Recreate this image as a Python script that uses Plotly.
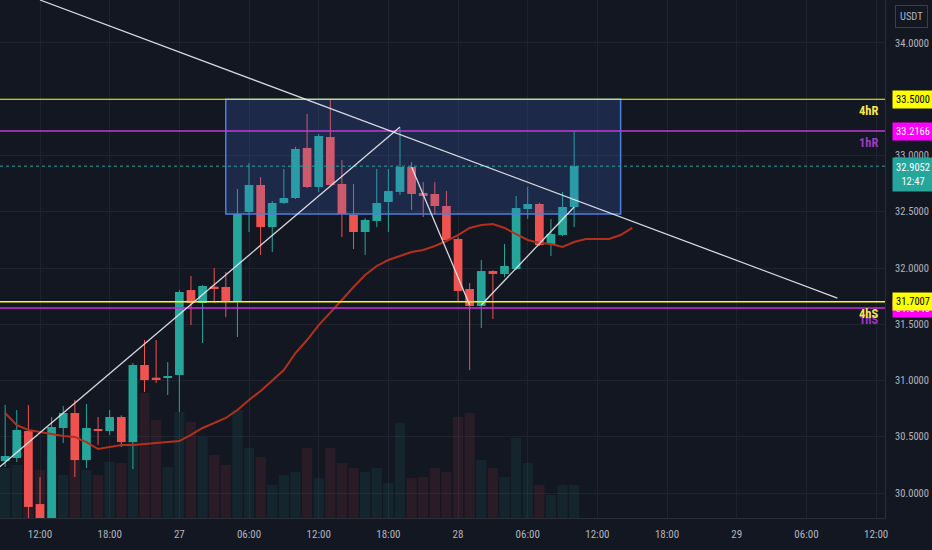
import plotly.graph_objects as go
import pandas as pd

# ---------------- data ----------------
candle_start = "2022-01-26 09:00"   # hourly candles

opens = [30.284, 30.311, 30.551, 29.902, 29.740, 30.578, 30.711, 30.293, 30.569, 30.551,
         30.676, 30.453, 31.138, 31.022, 31.022, 31.049, 31.804, 31.689, 31.831, 31.831,
         31.707, 32.498, 32.738, 32.364, 32.578, 32.622, 33.067, 32.720, 33.164, 32.747,
         32.471, 32.320, 32.418, 32.587, 32.676, 32.898, 32.667, 32.658, 32.551, 32.258,
         31.813, 31.662, 31.973, 31.947, 31.991, 32.524, 32.569, 32.213, 32.293, 32.542]
highs = [30.782, 30.738, 30.782, 30.142, 30.676, 30.773, 30.827, 30.791, 30.676, 30.738,
         30.690, 31.156, 31.360, 31.360, 31.164, 31.804, 31.929, 31.850, 32.000, 31.964,
         32.702, 32.933, 32.809, 32.596, 32.880, 33.076, 33.369, 33.191, 33.502, 32.960,
         32.747, 32.444, 32.880, 32.880, 33.244, 32.942, 32.764, 32.764, 32.684, 32.276,
         31.867, 32.071, 31.980, 32.213, 32.640, 32.720, 32.580, 32.436, 32.676, 33.218]
lows = [30.231, 30.276, 29.700, 29.700, 29.700, 30.444, 30.142, 30.222, 30.427, 30.516,
        30.409, 30.213, 30.898, 30.978, 30.871, 30.720, 31.493, 31.333, 31.689, 31.564,
        31.387, 32.320, 32.116, 32.142, 32.569, 32.613, 32.711, 32.676, 32.730, 32.276,
        32.169, 32.116, 32.364, 32.320, 32.649, 32.516, 32.453, 32.471, 32.240, 31.698,
        31.093, 31.467, 31.547, 31.920, 31.982, 32.436, 32.196, 32.107, 32.284, 32.364]
closes = [30.329, 30.560, 29.876, 29.740, 30.587, 30.711, 30.293, 30.578, 30.551, 30.676,
          30.453, 31.138, 31.004, 31.013, 31.040, 31.787, 31.689, 31.840, 31.822, 31.707,
          32.480, 32.738, 32.364, 32.578, 32.622, 33.058, 32.720, 33.173, 32.738, 32.480,
          32.320, 32.427, 32.578, 32.684, 32.898, 32.658, 32.640, 32.551, 32.249, 31.796,
          31.662, 31.973, 31.947, 32.018, 32.533, 32.569, 32.204, 32.302, 32.542, 32.9052]
volumes = [50, 53, 48, 48, 63, 43, 58, 48, 43, 56,
           55, 78, 125, 98, 51, 106, 96, 81, 63, 53,
           108, 70, 61, 33, 43, 46, 70, 40, 70, 55,
           50, 46, 50, 35, 95, 40, 41, 50, 46, 101,
           105, 58, 50, 41, 80, 55, 33, 23, 33, 33]
# moving average (plotted with a forward offset, so it runs past the last candle)
ma_values = [30.711, 30.604, 30.560, 30.542, 30.524, 30.507, 30.498, 30.453, 30.391, 30.409,
             30.427, 30.427, 30.436, 30.444, 30.453, 30.462, 30.516, 30.578, 30.622, 30.667,
             30.738, 30.827, 30.907, 31.004, 31.093, 31.244, 31.360, 31.493, 31.609, 31.716,
             31.831, 31.938, 32.018, 32.071, 32.107, 32.142, 32.160, 32.196, 32.240, 32.293,
             32.356, 32.382, 32.391, 32.356, 32.302, 32.249, 32.222, 32.213, 32.187, 32.231,
             32.258, 32.258, 32.258, 32.293, 32.356]

x_tick_times = ["2022-01-26 12:00", "2022-01-26 18:00", "2022-01-27 00:00", "2022-01-27 06:00",
                "2022-01-27 12:00", "2022-01-27 18:00", "2022-01-28 00:00", "2022-01-28 06:00",
                "2022-01-28 12:00", "2022-01-28 18:00", "2022-01-29 00:00", "2022-01-29 06:00",
                "2022-01-29 12:00"]
x_tick_labels = ["12:00", "18:00", "27", "06:00", "12:00", "18:00", "28", "06:00",
                 "12:00", "18:00", "29", "06:00", "12:00"]
y_tick_values = [30.0, 30.5, 31.0, 31.5, 32.0, 32.5, 33.0, 33.5, 34.0]

level_4h_res = 33.5000
level_1h_res = 33.2166
level_4h_sup = 31.7007
level_1h_sup = 31.6440
last_price = 32.9052
countdown = "12:47"
quote_ccy = "USDT"

zone_times = ["2022-01-27 04:00", "2022-01-28 14:00"]
zone_prices = [32.48, 33.50]

trend_lines = [
    ("2022-01-26 12:00", 34.382, "2022-01-29 08:40", 31.733),
    ("2022-01-26 08:30", 30.230, "2022-01-27 19:00", 33.253),
    ("2022-01-27 20:00", 32.898, "2022-01-28 01:00", 31.671),
    ("2022-01-28 02:00", 31.671, "2022-01-28 10:00", 32.542),
]

x_view = ["2022-01-26 08:33:20", "2022-01-29 12:46:00"]
y_view = [29.778, 34.382]

# ---------------- styling ----------------
BG = "#131722"
GRID = "#1f2330"
AXIS_TXT = "#b2b5be"
UP = "#26a69a"
DOWN = "#ef5350"
FONT = "Liberation Sans Narrow, Roboto Condensed, Roboto, Arial, sans-serif"
HOUR_MS = 3600 * 1000

times = pd.date_range(candle_start, periods=len(opens), freq="h")
ma_times = pd.date_range(candle_start, periods=len(ma_values), freq="h")

is_up = [c >= o for o, c in zip(opens, closes)]
body_colors = [UP if u else DOWN for u in is_up]
vol_colors = ["rgba(38,166,154,0.10)" if u else "rgba(239,83,80,0.10)" for u in is_up]

fig = go.Figure()

# volume (hidden primary axis, drawn first = behind)
fig.add_trace(go.Bar(x=times, y=volumes, marker=dict(color=vol_colors, line=dict(width=0)),
                     width=0.88 * HOUR_MS, yaxis="y", hoverinfo="skip", showlegend=False))

# wicks
for want_up, col in ((True, UP), (False, DOWN)):
    wx, wy = [], []
    for t, h, l, u in zip(times, highs, lows, is_up):
        if u == want_up:
            wx += [t, t, None]
            wy += [l, h, None]
    fig.add_trace(go.Scatter(x=wx, y=wy, mode="lines", line=dict(color=col, width=1),
                             yaxis="y2", hoverinfo="skip", showlegend=False))

# bodies
fig.add_trace(go.Bar(x=times,
                     y=[max(abs(c - o), 0.012) for o, c in zip(opens, closes)],
                     base=[min(o, c) for o, c in zip(opens, closes)],
                     marker=dict(color=body_colors, line=dict(width=0)),
                     width=0.75 * HOUR_MS, yaxis="y2", showlegend=False))

# moving average
fig.add_trace(go.Scatter(x=ma_times, y=ma_values, mode="lines",
                         line=dict(color="#b3301c", width=2), yaxis="y2",
                         hoverinfo="skip", showlegend=False))

shapes = []
# zone box
shapes.append(dict(type="rect", xref="x", yref="y2", x0=zone_times[0], x1=zone_times[1],
                   y0=zone_prices[0], y1=zone_prices[1], layer="above",
                   fillcolor="rgba(70,115,225,0.20)", line=dict(color="#4f7fdc", width=1.5)))
# horizontal levels
for lvl, col, w in ((level_1h_sup, "#cc2fdc", 1.5), (level_4h_sup, "#ffff00", 1.5),
                    (level_1h_res, "#c13bd6", 1.5), (level_4h_res, "#ffff00", 1.2)):
    shapes.append(dict(type="line", xref="paper", yref="y2", x0=0, x1=1, y0=lvl, y1=lvl,
                       layer="above", line=dict(color=col, width=w)))
# last price dotted
shapes.append(dict(type="line", xref="paper", yref="y2", x0=0, x1=1, y0=last_price,
                   y1=last_price, layer="above", line=dict(color=UP, width=1, dash="dot")))
# trend lines
for xa, ya, xb, yb in trend_lines:
    shapes.append(dict(type="line", xref="x", yref="y2", x0=xa, y0=ya, x1=xb, y1=yb,
                       layer="above", line=dict(color="rgba(235,235,240,0.9)", width=1.3)))

annotations = []
def price_box(price, bg, fg, text=None, yshift=0, height=15):
    annotations.append(dict(xref="paper", yref="y2", x=1, y=price, xanchor="left",
                            yanchor="middle", xshift=7, yshift=yshift,
                            text=text if text else f"{price:.4f}", showarrow=False,
                            bgcolor=bg, font=dict(family=FONT, size=10.5, color=fg),
                            width=38, height=height, borderpad=1, align="center"))

price_box(level_1h_sup, "#ff00ff", "#ffffff")
price_box(level_4h_sup, "#ffff00", "#000000")
price_box(level_1h_res, "#ff00ff", "#ffffff")
price_box(level_4h_res, "#ffff00", "#000000")
price_box(last_price, UP, "#ffffff", text=f"{last_price:.4f}<br>{countdown}", yshift=-8, height=31)

def level_text(price, txt, col, dy=-2):
    annotations.append(dict(xref="paper", yref="y2", x=1, y=price, xanchor="right",
                            yanchor="top", xshift=-5, yshift=dy, text=f"<b>{txt}</b>",
                            showarrow=False, font=dict(family=FONT, size=12.5, color=col)))

level_text(level_1h_res, "1hR", "#9c3dbd")
level_text(level_4h_res, "4hR", "#f5e44c")
level_text(level_1h_sup, "1hS", "#a234c4")
level_text(level_4h_sup, "4hS", "#f5e44c")

annotations.append(dict(xref="paper", yref="paper", x=1, y=1, xanchor="left", yanchor="top",
                        xshift=10, yshift=-5, text=quote_ccy, showarrow=False,
                        font=dict(family=FONT, size=10.5, color=AXIS_TXT),
                        bordercolor="#3a3e4a", borderwidth=1, borderpad=4, bgcolor=BG))

fig.update_layout(
    width=932, height=550,
    margin=dict(l=0, r=47, t=0, b=32),
    paper_bgcolor=BG, plot_bgcolor=BG,
    barmode="overlay", showlegend=False,
    font=dict(family=FONT, color=AXIS_TXT, size=10.5),
    xaxis=dict(type="date", range=x_view, tickvals=x_tick_times, ticktext=x_tick_labels,
               showgrid=True, gridcolor=GRID, gridwidth=1, zeroline=False,
               showline=True, linecolor="#2a2e39", linewidth=1, mirror=False,
               ticks="outside", ticklen=6, tickcolor="rgba(0,0,0,0)",
               tickfont=dict(family=FONT, size=11, color=AXIS_TXT), fixedrange=True),
    yaxis=dict(range=[0, 518], visible=False, fixedrange=True, showgrid=False),
    yaxis2=dict(overlaying="y", side="right", range=y_view, tickvals=y_tick_values,
                ticktext=[f"{v:.4f}" for v in y_tick_values],
                showgrid=True, gridcolor=GRID, gridwidth=1, zeroline=False,
                showline=True, linecolor="#2a2e39", linewidth=1,
                ticks="outside", ticklen=7, tickcolor="rgba(0,0,0,0)",
                tickfont=dict(family=FONT, size=10.5, color=AXIS_TXT), fixedrange=True),
    shapes=shapes, annotations=annotations,
)

fig.write_html("out.html", config={"displayModeBar": False},
               post_script="document.body.style.margin='0';document.body.style.overflow='hidden';")
